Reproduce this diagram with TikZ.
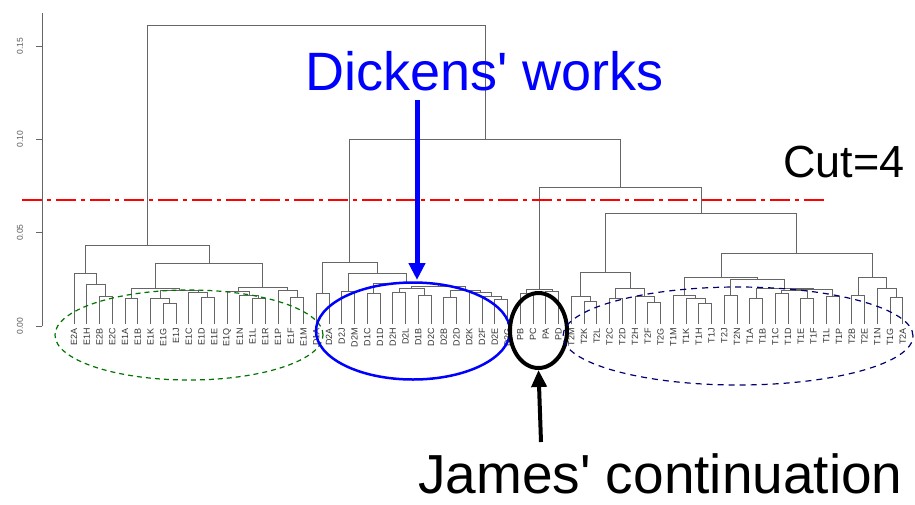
\documentclass[tikz,border=0pt]{standalone}
\usepackage{fontspec}
\setmainfont{Liberation Sans}
\usetikzlibrary{calc,arrows.meta,shapes.geometric}

\tikzset{
  dendro/.style={draw=black!60, line width=0.9pt},
  leaflab/.style={rotate=90, anchor=east, inner sep=0pt, text=black!80,
    font=\fontsize{9}{9}\selectfont},
  ticklab/.style={rotate=90, inner sep=0pt, text=black!65,
    font=\fontsize{8.5}{9}\selectfont},
  cutline/.style={draw=red, line width=2.2pt,
    dash pattern=on 20pt off 5pt on 4pt off 5pt},
  group/.style={draw, ellipse, inner sep=0pt},
  bigtext/.style={anchor=base west, inner sep=0pt},
}

% merge two clusters at a given height: new name, left, right, height
\newcommand{\mrg}[4]{%
  \coordinate (#1l) at (#2 |- 0,#4);
  \coordinate (#1r) at (#3 |- 0,#4);
  \draw[dendro] (#2) -- (#1l) -- (#1r) -- (#3);
  \coordinate (#1) at ($(#1l)!0.5!(#1r)$);
}

\begin{document}
\begin{tikzpicture}[x=1pt, y=-1pt, >=Stealth]
  \useasboundingbox (0,0) rectangle (915,504);

  % Height axis
  \draw[dendro] (42,326) -- (42,13);
  \foreach \v/\y [count=\k] in {0.00/326, 0.05/232.7, 0.10/139.3, 0.15/46} {
    \draw[dendro] (42,\y) -- (36,\y);
    \node[ticklab] (tick\k) at (20,\y) {\v};
  }

  % Leaves
  \foreach \lab [count=\i from 0] in {E2A,E1H,E2B,E2C,E1A,E1B,E1K,E1G,E1J,
      E1C,E1D,E1E,E1Q,E1N,E1L,E1R,E1P,E1F,E1M,
      D1A,D2A,D2J,D2M,D1C,D1D,D2H,D2L,D1B,D2C,D2B,D2D,D2K,D2F,D2E,D2G,
      PB,PC,PA,PD,
      T2M,T2K,T2L,T2C,T2D,T2H,T2F,T2G,T1M,T1K,T1H,T1J,T2J,T2N,T1A,T1B,
      T1C,T1D,T1E,T1F,T1L,T1P,T2B,T2E,T1N,T1G,T2A} {
    \coordinate (\lab) at ({74+12.75*\i},324);
    \node[leaflab] (lb\lab) at ({74+12.75*\i},328) {\lab};
  }

  % E group
  \mrg{e1}{E2B}{E2C}{296}
  \mrg{e2}{E1H}{e1}{284}
  \mrg{e3}{E2A}{e2}{273}
  \mrg{e4}{E1A}{E1B}{298}
  \mrg{e5}{E1G}{E1J}{303}
  \mrg{e6}{E1K}{e5}{298}
  \mrg{e7}{E1D}{E1E}{297}
  \mrg{e8}{E1C}{e7}{292}
  \mrg{e9}{e6}{e8}{290}
  \mrg{e10}{e4}{e9}{288}
  \mrg{e11}{E1L}{E1R}{298}
  \mrg{e12}{E1N}{e11}{295}
  \mrg{e13}{E1Q}{e12}{291}
  \mrg{e14}{E1F}{E1M}{297}
  \mrg{e15}{E1P}{e14}{290}
  \mrg{e16}{e13}{e15}{287}
  \mrg{e17}{e10}{e16}{263}
  \mrg{e18}{e3}{e17}{245}

  % D group
  \mrg{d1}{D1A}{D2A}{293}
  \mrg{d2}{D2J}{D2M}{291}
  \mrg{d3}{D1C}{D1D}{293}
  \mrg{d4}{D2H}{D2L}{292}
  \mrg{d5}{D1B}{D2C}{295}
  \mrg{d6}{d4}{d5}{288}
  \mrg{d7}{D2B}{D2D}{297}
  \mrg{d8}{D2E}{D2G}{299}
  \mrg{d9}{D2F}{d8}{296}
  \mrg{d10}{D2K}{d9}{292}
  \mrg{d11}{d7}{d10}{290}
  \mrg{d12}{d6}{d11}{286}
  \mrg{d13}{d3}{d12}{283}
  \mrg{d14}{d2}{d13}{273}
  \mrg{d15}{d1}{d14}{262}

  % P group
  \mrg{p1}{PB}{PC}{293}
  \mrg{p2}{PA}{PD}{291}
  \mrg{p3}{p1}{p2}{289}

  % T group
  \mrg{t1}{T2K}{T2L}{301}
  \mrg{t2}{T2M}{t1}{296}
  \mrg{t3}{T2C}{T2D}{298}
  \mrg{t4}{T2F}{T2G}{302}
  \mrg{t5}{T2H}{t4}{296}
  \mrg{t6}{t3}{t5}{288}
  \mrg{t7}{t2}{t6}{272}
  \mrg{t8}{T1H}{T1J}{303}
  \mrg{t9}{T1K}{t8}{298}
  \mrg{t10}{T1M}{t9}{295}
  \mrg{t11}{T2J}{T2N}{295}
  \mrg{t12}{T1A}{T1B}{298}
  \mrg{t13}{T1C}{T1D}{293}
  \mrg{t14}{T1E}{T1F}{298}
  \mrg{t15}{T1L}{T1P}{296}
  \mrg{t16}{t13}{t14}{290}
  \mrg{t17}{t16}{t15}{289}
  \mrg{t18}{t12}{t17}{288}
  \mrg{t19}{t11}{t18}{279}
  \mrg{t20}{t10}{t19}{277}
  \mrg{t21}{T2B}{T2E}{295}
  \mrg{t22}{T1G}{T2A}{297}
  \mrg{t23}{T1N}{t22}{288}
  \mrg{t24}{t21}{t23}{277}
  \mrg{t25}{t20}{t24}{253}
  \mrg{t26}{t7}{t25}{213}

  % upper joins
  \mrg{ptj}{p3}{t26}{187}
  \mrg{dptj}{d15}{ptj}{139}
  \mrg{rootj}{e18}{dptj}{25}

  % cut line
  \coordinate (cutL) at (22,200);
  \coordinate (cutR) at (828,200);
  \draw[cutline] (cutL) -- (cutR);
  \node[bigtext, font=\fontsize{45}{50}\selectfont] (cut) at (783,177) {Cut=4};

  % groups
  \node[group, draw=green!45!black, line width=1.2pt, dash pattern=on 5pt off 4pt,
    minimum width=268pt, minimum height=90pt] (egroup) at (189,335) {};
  \node[group, draw=blue, line width=2.5pt,
    minimum width=194pt, minimum height=97pt] (dgroup) at (413,331) {};
  \node[group, draw=black, line width=4pt,
    minimum width=57pt, minimum height=75pt] (pgroup) at (538.5,330.5) {};
  \node[group, draw=blue!45!black, line width=1.2pt, dash pattern=on 6pt off 5pt,
    minimum width=350pt, minimum height=98pt] (tgroup) at (738,336) {};

  % annotations
  \node[bigtext, text=blue, font=\fontsize{54}{60}\selectfont] (dickens) at (305,90)
    {Dickens\textquotesingle{} works};
  \coordinate (dtail) at (417,100);
  \coordinate (dtip) at (417,280);
  \draw[blue, line width=5pt, -{Triangle[width=16pt,length=17pt]}] (dtail) -- (dtip);

  \node[bigtext, font=\fontsize{55}{60}\selectfont] (james) at (418,493)
    {James\textquotesingle{} continuation};
  \coordinate (jtail) at (541,442);
  \draw[black, line width=4pt, -{Triangle[width=15pt,length=17pt]}] (jtail) -- (pgroup.south);
\end{tikzpicture}
\end{document}
